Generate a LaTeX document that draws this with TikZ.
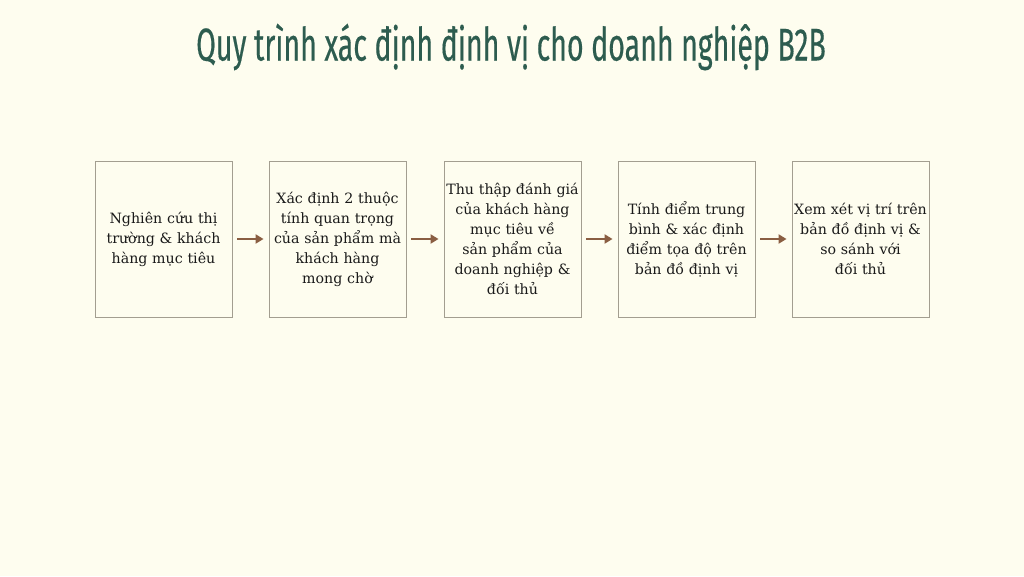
\documentclass[tikz,border=0pt]{standalone}
\usepackage{fontspec}
\setmainfont{DejaVu Serif}
\newfontfamily\titlefont[FakeStretch=0.62,FakeBold=0.3]{Fira Sans}
\usetikzlibrary{arrows.meta}
\definecolor{bgc}{HTML}{FEFDEF}
\definecolor{titlec}{HTML}{2D5C4F}
\definecolor{boxc}{HTML}{A39E90}
\definecolor{arrc}{HTML}{8A5E42}
\definecolor{txtc}{HTML}{1A1A1A}
\tikzset{
  stepbox/.style={draw=boxc, line width=0.9pt, minimum width=137pt, minimum height=156pt,
    text width=134pt, align=center, inner sep=0pt, text=txtc,
    font=\fontsize{14.2}{20}\selectfont},
  flowarrow/.style={draw=arrc, line width=2pt, -{Triangle[length=8pt,width=9pt]}, shorten <=5pt, shorten >=5pt},
}
\begin{document}
\begin{tikzpicture}[x=1pt,y=-1pt]
\fill[bgc] (0,0) rectangle (1024,576);
\useasboundingbox (0,0) rectangle (1024,576);
\node[text=titlec, font=\titlefont\fontsize{46}{48}\selectfont] (title) at (511,47) {Quy trình xác định định vị cho doanh nghiệp B2B};
\node[stepbox] (s1) at (163.5,239) {Nghiên cứu thị\\trường \& khách\\hàng mục tiêu};
\node[stepbox] (s2) at (337.5,239) {Xác định 2 thuộc\\tính quan trọng\\của sản phẩm mà\\khách hàng\\mong chờ};
\node[stepbox] (s3) at (512.5,239) {Thu thập đánh giá\\của khách hàng\\mục tiêu về\\sản phẩm của\\doanh nghiệp \&\\đối thủ};
\node[stepbox] (s4) at (686.5,239) {Tính điểm trung\\bình \& xác định\\điểm tọa độ trên\\bản đồ định vị};
\node[stepbox] (s5) at (860.5,239) {Xem xét vị trí trên\\bản đồ định vị \&\\so sánh với\\đối thủ};
\draw[flowarrow] (s1) -- (s2);
\draw[flowarrow] (s2) -- (s3);
\draw[flowarrow] (s3) -- (s4);
\draw[flowarrow] (s4) -- (s5);
\end{tikzpicture}
\end{document}
